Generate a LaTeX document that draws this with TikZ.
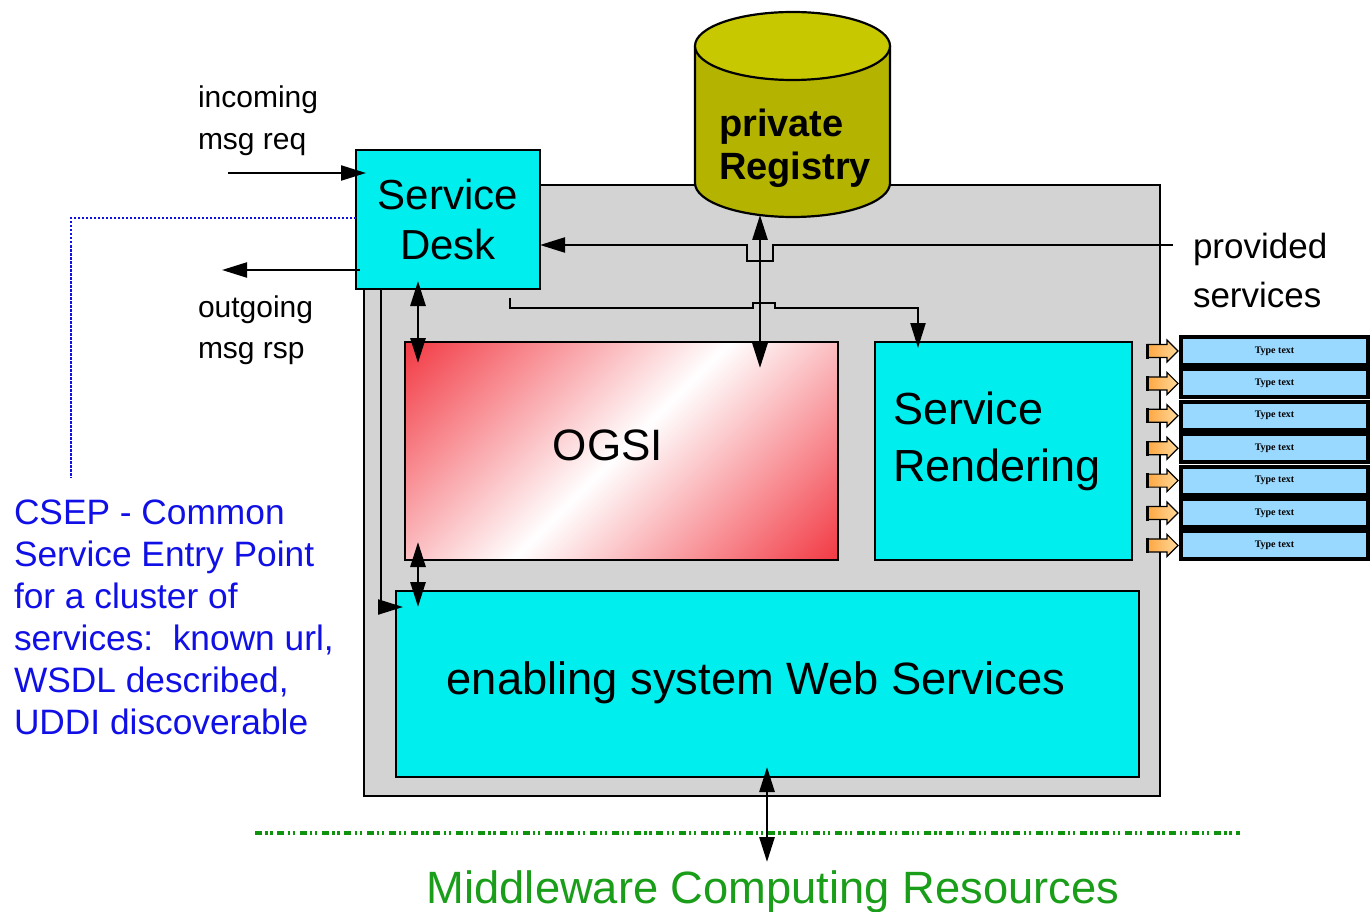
\documentclass[tikz,border=0pt]{standalone}
\usepackage{fontspec}
\setmainfont{Liberation Sans}
\newfontfamily\typefont{Liberation Serif}
\usetikzlibrary{arrows.meta}

\definecolor{deskcyan}{HTML}{00EEEE}
\definecolor{panelgrey}{HTML}{D3D3D3}
\definecolor{regtop}{HTML}{C8C800}
\definecolor{regbody}{HTML}{B4B400}
\definecolor{typeblue}{HTML}{99D9FF}
\definecolor{csepblue}{HTML}{1010E6}
\definecolor{mwgreen}{HTML}{1A9E1A}
\definecolor{dashgreen}{HTML}{0F930F}
\definecolor{arrdark}{HTML}{FFA640}
\definecolor{arrlight}{HTML}{FFD99A}

\pgfdeclarehorizontalshading{ogsifill}{460bp}{rgb(0bp)=(0.95,0.22,0.26); rgb(230bp)=(1,1,1); rgb(460bp)=(0.95,0.22,0.26)}

\begin{document}
\begin{tikzpicture}[x=1pt,y=-1pt,
  boxshape/.style={draw=black, line width=2pt, inner sep=0pt, outer sep=0pt},
  panel/.style={boxshape, fill=panelgrey},
  cyanbox/.style={boxshape, fill=deskcyan},
  typebox/.style={draw=black, line width=4pt, fill=typeblue, inner sep=0pt,
    minimum width=187pt, minimum height=28pt, font=\typefont\bfseries\fontsize{10}{11}\selectfont},
  wire/.style={line width=2.2pt, line join=miter},
  thickwire/.style={line width=2.8pt},
  arr/.style={-{Triangle[length=25pt,width=15pt]}},
  darr/.style={{Triangle[length=25pt,width=15pt]}-{Triangle[length=25pt,width=15pt]}},
  txt/.style={inner sep=0pt, outer sep=0pt, align=left},
]
\useasboundingbox (0,0) rectangle (1371,912);

% grey enclosure
\node[panel, minimum width=796pt, minimum height=611pt] (panel) at (762,490.5) {};

% private registry cylinder
\node[inner sep=0pt, minimum width=195pt, minimum height=205pt, anchor=north] (registry) at (792.5,12) {};
\fill[regbody] (695,46) -- (695,183) arc[start angle=180, end angle=0, x radius=97.5, y radius=34] -- (890,46) -- cycle;
\draw[line width=2.2pt] (695,46) -- (695,183) arc[start angle=180, end angle=0, x radius=97.5, y radius=34] -- (890,46);
\filldraw[fill=regtop, line width=2.2pt] (792.5,46) ellipse[x radius=97.5, y radius=34];
\node[txt, anchor=north west, font=\bfseries\fontsize{38}{43}\selectfont] (regtext) at (719,109) {private\\Registry};

% service desk
\node[cyanbox, minimum width=184pt, minimum height=139pt, align=center,
  font=\fontsize{42}{50}\selectfont] (desk) at (448,219.5) {Service\\Desk};

% OGSI with diagonal red-white-red gradient
\node[boxshape, minimum width=433pt, minimum height=218pt] (ogsi) at (621.5,451) {};
\begin{scope}
  \clip (ogsi.south west) rectangle (ogsi.north east);
  \node[rotate=-45, inner sep=0pt, outer sep=0pt] at (ogsi.center) {\pgfuseshading{ogsifill}};
\end{scope}
\draw[line width=2pt] (ogsi.south west) rectangle (ogsi.north east);
\node[txt, font=\fontsize{44}{50}\selectfont] (ogsitext) at (608,445) {OGSI};

% service rendering
\node[cyanbox, minimum width=257pt, minimum height=218pt] (render) at (1003.5,451) {};
\node[txt, anchor=north west, font=\fontsize{45}{57}\selectfont] (rendertext) at (893,392) {Service\\Rendering};

% enabling system web services
\node[cyanbox, minimum width=743pt, minimum height=186pt] (ews) at (767.5,684) {};
\node[txt, anchor=base, font=\fontsize{45.3}{50}\selectfont] (ewstext) at (756,694) {enabling system Web Services};

% provided services stack
\foreach \i in {0,...,6}{
  \pgfmathsetmacro\yc{351+32.4*\i}
  \node[typebox] (type\i) at (1274.5,\yc) {Type text};
  \begin{scope}[shift={(type\i.west)}]
    \shade[left color=arrdark, right color=arrlight, draw=black, line width=1.2pt, line join=miter]
      (-32,-6.5) -- (-12,-6.5) -- (-12,-11) -- (-1,0) -- (-12,11) -- (-12,6.5) -- (-32,6.5) -- cycle;
    \draw[line width=3pt] (-32,-7.5) -- (-32,7.5);
  \end{scope}
}

% free ends of the outside connectors
\coordinate (inc) at (228,173);
\coordinate (outg) at (222,270);
\coordinate (cseptail) at (71,478);
\coordinate (prov) at (1173,245);
\coordinate (regfoot) at (760,215);
\coordinate (mw) at (767,862);

% middleware boundary
\draw[dashgreen, line width=4pt, dash pattern=on 7pt off 3.3pt on 2.3pt off 2.7pt on 2.3pt off 4.7pt] (255,833) -- (1240,833);

% connectors
\draw[wire, arr] (inc) -- ([xshift=10pt]desk.west |- inc);
\draw[wire, arr] ([xshift=4pt]desk.west |- outg) -- (outg);
\draw[csepblue, line width=2.5pt, dash pattern=on 2.5pt off 1.5pt] (desk.west |- 0,218) -- (71,218) -- (cseptail);
\draw[wire, arr] (prov) -- (773,245) -- (773,261) -- (747,261) -- (747,245) -- (desk.east |- prov);
\draw[thickwire, darr] (regfoot) -- ([yshift=-26pt]ogsi.north -| regfoot);
\draw[wire, arr] (510,298) -- (510,308) -- (753,308) -- (753,303) -- (775,303) -- (775,308) -- (918,308)
  -- ([yshift=-6pt]render.north -| 918,0);
\draw[thickwire, darr] ([yshift=8pt]desk.south -| 418,0) -- ([yshift=-21pt]ogsi.north -| 418,0);
\draw[thickwire, darr] ([yshift=18pt]ogsi.south -| 418,0) -- ([yshift=-16pt]ews.north -| 418,0);
\draw[wire, arr] (desk.south -| 381,0) -- (381,607) -- ([xshift=7pt]ews.west |- 0,607);
\draw[thickwire, darr] ([yshift=10pt]ews.south -| mw) -- (mw);

% outside labels
\node[txt, anchor=north west, font=\fontsize{30}{42}\selectfont] (inclbl) at (198,86) {incoming\\msg req};
\node[txt, anchor=north west, font=\fontsize{30}{41}\selectfont] (outlbl) at (198,296) {outgoing\\msg rsp};
\node[txt, anchor=north west, font=\fontsize{35}{49}\selectfont] (provlbl) at (1193,233) {provided\\services};
\node[txt, anchor=north west, text=csepblue, font=\fontsize{35.3}{42}\selectfont] (cseplbl) at (14,500)
  {CSEP - Common\\Service Entry Point\\for a cluster of\\services:\ \ known url,\\WSDL described,\\UDDI discoverable};
\node[txt, anchor=base, text=mwgreen, font=\fontsize{45.3}{50}\selectfont] (mwlbl) at (773,903) {Middleware Computing Resources};
\end{tikzpicture}
\end{document}
